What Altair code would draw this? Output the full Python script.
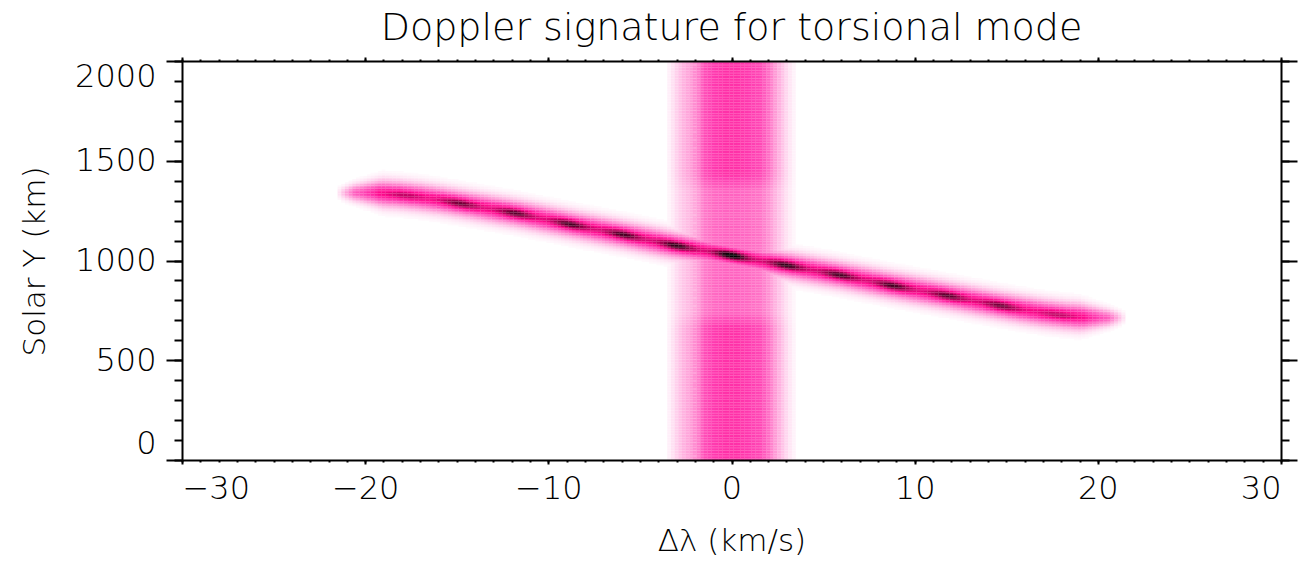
import numpy as np
import pandas as pd
import altair as alt

# ---------------- values ----------------
title_text = "Doppler signature for torsional mode"
x_title = "Δλ (km/s)"
y_title = "Solar Y (km)"

x_major = [-30, -20, -10, 0, 10, 20, 30]
x_minor = list(range(-30, 31))
y_major = [0, 500, 1000, 1500, 2000]
y_minor = list(range(0, 2001, 100))

# vertical rest-line band (x profile in km/s -> level)
band_x = [-3.7, -3.3, -2.9, -2.5, -2.1, -1.8, -1.5, -1.0, -0.3, 0.3, 1.0, 1.6, 1.95, 2.3, 2.7, 3.1, 3.6]
band_level = [0.0, 0.06, 0.16, 0.24, 0.30, 0.38, 0.50, 0.56, 0.59, 0.59, 0.56, 0.52, 0.44, 0.32, 0.20, 0.09, 0.0]
# band brightness along height
band_gain_y = [0, 660, 740, 1350, 1430, 2000]
band_gain = [1.0, 1.0, 0.76, 0.76, 1.0, 1.0]

# inclined Doppler ridge (centre line)
ridge_x = [-21.8, -20.5, -19.3, -18.2, -17.0, -15.8, -14.8, -11.7, -8.7, -5.9, -3.1, 0.0,
           3.0, 5.9, 8.7, 11.8, 14.7, 15.8, 17.0, 18.2, 19.3, 20.5, 21.8]
ridge_y = [1338, 1340, 1338, 1331, 1318, 1302, 1286, 1236, 1180, 1130, 1076, 1026,
           976, 928, 876, 824, 774, 756, 738, 724, 716, 713, 714]
ridge_amp_x = [-21.6, -20.6, -19.2, 19.2, 20.6, 21.6]
ridge_amp = [0.0, 0.45, 0.68, 0.68, 0.45, 0.0]
ridge_width_x = [-21.6, -19.0, 19.0, 21.6]
ridge_width = [18.0, 42.0, 42.0, 18.0]

# dark knots along the ridge
knot_x = [-17.8, -14.8, -11.8, -8.8, -5.9, -3.0, 0.0, 3.0, 5.9, 8.8, 11.8, 14.7, 17.8]
knot_dark = [0.12, 0.22, 0.24, 0.26, 0.26, 0.28, 0.34, 0.28, 0.26, 0.26, 0.24, 0.22, 0.12]

# colour table
cmap_stops = [0.0, 0.25, 0.55, 0.7, 0.85, 1.0]
cmap_colors = ["#ffffff", "#ffa8dc", "#ff3fb2", "#ff0a8e", "#a0004e", "#000000"]

# ---------------- build the image grid ----------------
dx, dy = 0.2, 8.0
xs = np.arange(-23.0, 23.0001, dx)
ys = np.arange(dy / 2, 2000, dy)
X, Y = np.meshgrid(xs, ys)

band = np.interp(X, band_x, band_level, left=0, right=0) * np.interp(Y, band_gain_y, band_gain)
yc = np.interp(X, ridge_x, ridge_y)
amp = np.interp(X, ridge_amp_x, ridge_amp, left=0, right=0)
sig = np.interp(X, ridge_width_x, ridge_width)
d = Y - yc
line = amp * np.exp(-0.5 * (d / sig) ** 2)
kn = np.zeros_like(X)
for kx, kd in zip(knot_x, knot_dark):
    kn += kd * np.exp(-0.5 * ((X - kx) / 0.75) ** 2)
kn *= np.exp(-0.5 * (d / (sig * 0.48)) ** 2) * (amp / max(ridge_amp))
v = np.clip(np.maximum(band, line + kn), 0, 1)

mask = v > 0.015
df = pd.DataFrame({
    "x0": X[mask] - dx * 0.53,
    "x1": X[mask] + dx * 0.53,
    "y0": Y[mask] - dy * 0.53,
    "y1": Y[mask] + dy * 0.53,
    "v": v[mask],
})
frame = pd.DataFrame({"x": [-30, 30], "y": [0, 2000]})

FONT = "DejaVu Sans"
FW = 200
xscale = alt.Scale(domain=[-30, 30], nice=False, zero=False)
yscale = alt.Scale(domain=[0, 2000], nice=False, zero=False)

common = dict(grid=False, zindex=1, tickColor="black", domainColor="black")

heat = alt.Chart(df).mark_rect(clip=True, strokeWidth=0).encode(
    x=alt.X("x0:Q", scale=xscale, axis=alt.Axis(
        orient="bottom", values=x_major, tickSize=4, tickWidth=2, domain=True, domainWidth=2,
        labelFontSize=32, labelFont=FONT, labelFontWeight=FW, labelColor="black", labelPadding=9,
        format="d",
        title=x_title, titleFontSize=31, titleFont=FONT, titleFontWeight=FW, titleColor="black",
        titleX=549.5, titleY=81, titleBaseline="middle", titleAlign="center", **common)),
    x2="x1:Q",
    y=alt.Y("y0:Q", scale=yscale, axis=alt.Axis(
        orient="left", values=y_major, tickSize=16, tickWidth=2, domain=True, domainWidth=2,
        labelFontSize=32, labelFont=FONT, labelFontWeight=FW, labelColor="black", labelPadding=10,
        labelFlush=True, format="d",
        title=y_title, titleFontSize=31, titleFont=FONT, titleFontWeight=FW, titleColor="black",
        titleX=-147, titleY=200, titleBaseline="middle", titleAlign="center", titleAngle=270, **common)),
    y2="y1:Q",
    color=alt.Color("v:Q", scale=alt.Scale(domain=cmap_stops, range=cmap_colors, interpolate="rgb"), legend=None),
)


def tick_layer(xorient, yorient, xvals, yvals, xsize, ysize, domain):
    return alt.Chart(frame).mark_point(opacity=0).encode(
        x=alt.X("x:Q", scale=xscale, axis=alt.Axis(
            orient=xorient, values=xvals, tickSize=xsize, tickWidth=2, labels=False, title=None,
            domain=domain, domainWidth=2, **common)),
        y=alt.Y("y:Q", scale=yscale, axis=alt.Axis(
            orient=yorient, values=yvals, tickSize=ysize, tickWidth=2, labels=False, title=None,
            domain=domain, domainWidth=2, **common)),
    )


minor_bl = tick_layer("bottom", "left", x_minor, y_minor, 2, 8, False)
major_tr = tick_layer("top", "right", x_major, y_major, 4, 16, True)
minor_tr = tick_layer("top", "right", x_minor, y_minor, 2, 8, False)

chart = alt.layer(heat, minor_bl, major_tr, minor_tr).resolve_axis(
    x="independent", y="independent"
).properties(
    width=1099,
    height=399,
    autosize=alt.AutoSizeParams(type="none"),
    padding={"left": 182, "top": 61, "right": 24, "bottom": 101},
    title=alt.TitleParams(text=title_text, fontSize=38, font=FONT, fontWeight=FW, color="black",
                          anchor="middle", offset=8),
).configure_view(stroke=None)

chart.save("out.html", embed_options={"renderer": "svg", "actions": False})
